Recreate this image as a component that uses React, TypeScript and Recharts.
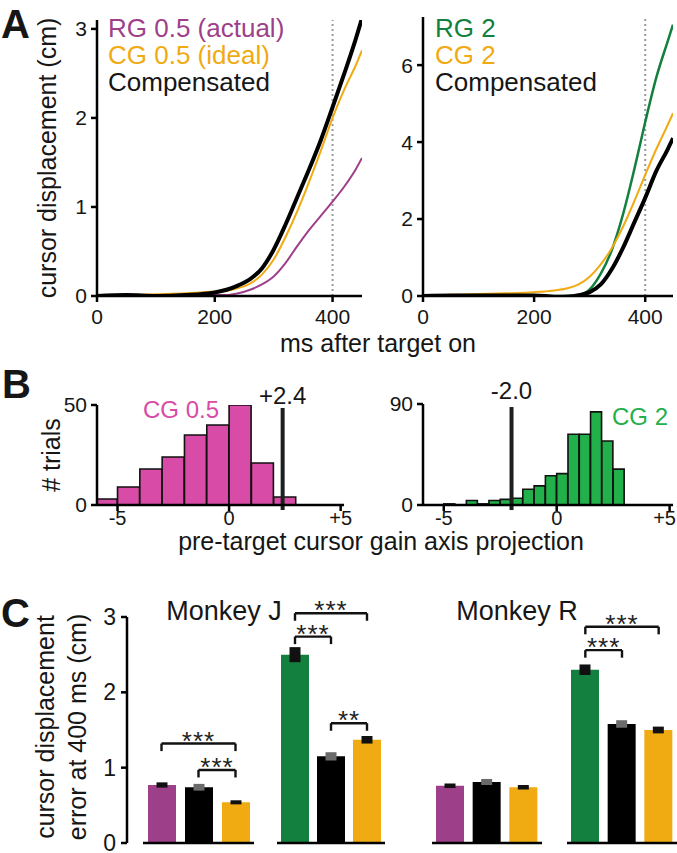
import React from "react";
import {
  LineChart,
  Line,
  BarChart,
  Bar,
  Cell,
  ErrorBar,
  XAxis,
  YAxis,
  ReferenceLine,
} from "recharts";

const FONT = '"Liberation Sans", Arial, Helvetica, sans-serif';

const PURPLE = "#9e3f8a";
const GOLD = "#f0aa12";
const GREEN = "#13803f";
const PINK = "#d84ba6";
const LIGHT_GREEN = "#22b04b";
const INK = "#161616";

// Panel A: cursor displacement (cm) vs ms after target onset
const timeMs = [0, 50, 100, 150, 200, 220, 240, 260, 280, 300, 320, 340, 360, 380, 400, 420, 440, 450];
const rg05 = [0, 0, 0, 0, 0.01, 0.01, 0.03, 0.07, 0.13, 0.22, 0.37, 0.56, 0.74, 0.9, 1.06, 1.23, 1.43, 1.55];
const cg05 = [0, 0.01, 0.02, 0.03, 0.05, 0.06, 0.09, 0.14, 0.24, 0.41, 0.66, 0.95, 1.28, 1.63, 2.0, 2.32, 2.6, 2.76];
const comp05 = [0, 0.01, 0, 0.01, 0.04, 0.07, 0.12, 0.19, 0.31, 0.52, 0.8, 1.11, 1.42, 1.75, 2.12, 2.5, 2.9, 3.12];
const rg2 = [0, 0.02, 0.02, 0.02, 0.01, 0, 0, 0, 0.02, 0.17, 0.58, 1.2, 2.12, 3.27, 4.52, 5.68, 6.6, 7.05];
const cg2 = [0, 0.03, 0.05, 0.07, 0.1, 0.12, 0.15, 0.2, 0.3, 0.5, 0.82, 1.25, 1.8, 2.45, 3.15, 3.82, 4.43, 4.75];
const comp2 = [0, 0.01, 0.01, 0.01, 0.01, 0, -0.03, -0.02, 0.02, 0.1, 0.3, 0.7, 1.25, 1.9, 2.55, 3.25, 3.8, 4.1];

// Panel B: histograms of pre-target cursor gain axis projection
const binsCG05 = [-5.5, -4.5, -3.5, -2.5, -1.5, -0.5, 0.5, 1.5, 2.5];
const trialsCG05 = [3, 9, 18, 24, 35, 40, 50, 21, 4];
const binsCG2 = [-4.75, -4.25, -3.75, -3.25, -2.75, -2.25, -1.75, -1.25, -0.75, -0.25, 0.25, 0.75, 1.25, 1.75, 2.25, 2.75];
const trialsCG2 = [1, 0, 4, 1, 4, 5, 6, 14, 17, 26, 28, 63, 63, 83, 57, 32];
const thresholdCG05 = 2.4;
const thresholdCG2 = -2.0;

// Panel C: displacement error at 400 ms (cm), mean and s.e.m.
const conditions = ["RG", "Compensated", "CG"];
const jGain05 = [0.77, 0.74, 0.54];
const jGain05Sem = [0.035, 0.045, 0.027];
const jGain2 = [2.5, 1.15, 1.37];
const jGain2Sem = [0.1, 0.055, 0.05];
const rGain05 = [0.76, 0.81, 0.74];
const rGain05Sem = [0.03, 0.04, 0.03];
const rGain2 = [2.3, 1.58, 1.5];
const rGain2Sem = [0.07, 0.05, 0.045];

type Sig = { from: string; to: string; level: number; stars: string };
const jGain05Sig: Sig[] = [
  { from: "RG", to: "CG", level: 1.32, stars: "***" },
  { from: "Compensated", to: "CG", level: 0.97, stars: "***" },
];
const jGain2Sig: Sig[] = [
  { from: "RG", to: "CG", level: 3.05, stars: "***" },
  { from: "RG", to: "Compensated", level: 2.74, stars: "***" },
  { from: "Compensated", to: "CG", level: 1.59, stars: "**" },
];
const rGain05Sig: Sig[] = [];
const rGain2Sig: Sig[] = [
  { from: "RG", to: "CG", level: 2.87, stars: "***" },
  { from: "RG", to: "Compensated", level: 2.56, stars: "***" },
];

const axisLine = { stroke: "#000", strokeWidth: 2.5 };

const signed = (v: number) => (v > 0 ? `+${v}` : `${v}`);
const fmtThreshold = (v: number) => (v > 0 ? "+" : "") + v.toFixed(1);

type SeriesDef = { key: string; color: string; width: number };

function TrajectoryChart(props: {
  rows: Record<string, number>[];
  series: SeriesDef[];
  yMax: number;
  yTicks: number[];
  left: number;
  width: number;
  yAxisWidth: number;
  marginTop: number;
  marginRight: number;
}) {
  const { rows, series, yMax, yTicks, left, width, yAxisWidth, marginTop, marginRight } = props;
  return (
    <div style={{ position: "absolute", left, top: 0 }}>
      <LineChart
        width={width}
        height={330}
        data={rows}
        margin={{ top: marginTop, right: marginRight, bottom: 0, left: 0 }}
      >
        <XAxis
          dataKey="t"
          type="number"
          domain={[0, 450]}
          ticks={[0, 200, 400]}
          interval={0}
          allowDataOverflow
          height={34}
          axisLine={axisLine}
          tickLine={axisLine}
          tickSize={6}
          tickMargin={7}
          tick={{ fill: INK, fontSize: 21 }}
        />
        <YAxis
          type="number"
          domain={[0, yMax]}
          ticks={yTicks}
          interval={0}
          allowDataOverflow
          width={yAxisWidth}
          axisLine={axisLine}
          tickLine={axisLine}
          tickSize={6}
          tickMargin={4}
          tick={{ fill: INK, fontSize: 21 }}
        />
        <ReferenceLine x={400} stroke="#9a9a9a" strokeWidth={2} strokeDasharray="2 3" />
        {series.map((s) => (
          <Line
            key={s.key}
            dataKey={s.key}
            type="monotone"
            stroke={s.color}
            strokeWidth={s.width}
            dot={false}
            isAnimationActive={false}
          />
        ))}
      </LineChart>
    </div>
  );
}

// keeps the last tick label inside the chart box
function HistTick(props: any) {
  const { x, y, payload, maxX } = props;
  const label = signed(payload.value);
  const half = label.length * 6;
  const clamp = x + half > maxX;
  return (
    <text
      x={clamp ? maxX : x}
      y={y}
      dy="0.71em"
      textAnchor={clamp ? "end" : "middle"}
      fill={INK}
      fontSize={20}
    >
      {label}
    </text>
  );
}

function HistogramChart(props: {
  bins: number[];
  counts: number[];
  color: string;
  yMax: number;
  threshold: number;
  labelOffset: number;
  left: number;
  width: number;
  yAxisWidth: number;
  marginTop: number;
  marginRight: number;
}) {
  const { bins, counts, color, yMax, threshold, labelOffset, left, width, yAxisWidth, marginTop, marginRight } = props;
  const rows = bins.map((x, i) => ({ x, n: counts[i] }));
  return (
    <div style={{ position: "absolute", left, top: 360 }}>
      <BarChart
        width={width}
        height={180}
        data={rows}
        barCategoryGap={0}
        barGap={0}
        margin={{ top: marginTop, right: marginRight, bottom: 0, left: 0 }}
      >
        <XAxis
          dataKey="x"
          type="number"
          domain={[-5.92, 5.15]}
          ticks={[-5, 0, 5]}
          interval={0}
          allowDataOverflow
          height={35}
          axisLine={axisLine}
          tickLine={axisLine}
          tickSize={6}
          tickMargin={0}
          tick={<HistTick maxX={width - 1} />}
        />
        <YAxis
          type="number"
          domain={[0, yMax]}
          ticks={[0, yMax]}
          interval={0}
          allowDataOverflow
          width={yAxisWidth}
          axisLine={axisLine}
          tickLine={axisLine}
          tickSize={6}
          tickMargin={4}
          tick={{ fill: INK, fontSize: 21 }}
        />
        <Bar dataKey="n" fill={color} stroke="#111" strokeWidth={1.6} isAnimationActive={false} />
        <ReferenceLine
          segment={[
            { x: threshold, y: yMax * 0.97 },
            { x: threshold, y: -yMax * 0.05 },
          ]}
          stroke="#1e1e1e"
          strokeWidth={4}
          ifOverflow="visible"
          label={{
            value: fmtThreshold(threshold),
            position: "top",
            offset: labelOffset,
            fill: INK,
            fontSize: 24,
          }}
        />
      </BarChart>
    </div>
  );
}

function GainGroupChart(props: {
  values: number[];
  sems: number[];
  rgColor: string;
  sig: Sig[];
  left: number;
  width: number;
}) {
  const { values, sems, rgColor, sig, left, width } = props;
  const fills: Record<string, string> = { RG: rgColor, Compensated: "#000", CG: GOLD };
  const rows = conditions.map((c, i) => ({
    cond: c,
    value: values[i],
    errDark: c === "Compensated" ? 0 : sems[i],
    errGray: c === "Compensated" ? sems[i] : 0,
  }));
  const bracket = { stroke: "#111", strokeWidth: 2.4, ifOverflow: "visible" as const };
  return (
    <div style={{ position: "absolute", left, top: 580 }}>
      <BarChart width={width} height={280} data={rows} margin={{ top: 37, right: 0, bottom: 15, left: 0 }}>
        <XAxis dataKey="cond" height={2} tick={false} tickLine={false} axisLine={axisLine} />
        <YAxis hide type="number" domain={[0, 3]} allowDataOverflow />
        <Bar dataKey="value" barSize={28} isAnimationActive={false}>
          {rows.map((r) => (
            <Cell key={r.cond} fill={fills[r.cond]} />
          ))}
          <ErrorBar dataKey="errDark" direction="y" width={0} strokeWidth={11} stroke="#111" isAnimationActive={false} />
          <ErrorBar dataKey="errGray" direction="y" width={0} strokeWidth={11} stroke="#6a6a6a" isAnimationActive={false} />
        </Bar>
        {sig.map((s, i) => (
          <ReferenceLine
            key={`h${i}`}
            {...bracket}
            segment={[
              { x: s.from, y: s.level },
              { x: s.to, y: s.level },
            ]}
            label={{ value: s.stars, position: "top", offset: -6, fill: "#222", fontSize: 26, letterSpacing: 1 }}
          />
        ))}
        {sig.map((s, i) => (
          <ReferenceLine
            key={`a${i}`}
            {...bracket}
            segment={[
              { x: s.from, y: s.level },
              { x: s.from, y: s.level - 0.1 },
            ]}
          />
        ))}
        {sig.map((s, i) => (
          <ReferenceLine
            key={`b${i}`}
            {...bracket}
            segment={[
              { x: s.to, y: s.level },
              { x: s.to, y: s.level - 0.1 },
            ]}
          />
        ))}
      </BarChart>
    </div>
  );
}

function ErrorAxisChart() {
  const rows = conditions.map((c, i) => ({ cond: c, value: jGain05[i] }));
  return (
    <div style={{ position: "absolute", left: 0, top: 580 }}>
      <BarChart width={140} height={273} data={rows} margin={{ top: 37, right: 0, bottom: 10, left: 0 }}>
        <XAxis dataKey="cond" hide />
        <YAxis
          type="number"
          domain={[0, 3]}
          ticks={[0, 1, 2, 3]}
          interval={0}
          allowDataOverflow
          width={127}
          axisLine={axisLine}
          tickLine={axisLine}
          tickSize={6}
          tickMargin={5}
          tick={{ fill: INK, fontSize: 23 }}
        />
      </BarChart>
    </div>
  );
}

type Txt = {
  s: string;
  x: number;
  y: number;
  size: number;
  fill?: string;
  anchor?: "start" | "middle" | "end";
  bold?: boolean;
  rot?: boolean;
};

const overlayText: Txt[] = [
  { s: "A", x: 1, y: 38, size: 40, bold: true },
  { s: "B", x: 2, y: 398, size: 40, bold: true },
  { s: "C", x: 1, y: 627, size: 40, bold: true },
  { s: "RG 0.5 (actual)", x: 108, y: 37, size: 26, fill: PURPLE },
  { s: "CG 0.5 (ideal)", x: 108, y: 64, size: 26, fill: GOLD },
  { s: "Compensated", x: 108, y: 91, size: 26 },
  { s: "RG 2", x: 435, y: 37, size: 26, fill: GREEN },
  { s: "CG 2", x: 435, y: 64, size: 26, fill: GOLD },
  { s: "Compensated", x: 435, y: 91, size: 26 },
  { s: "ms after target on", x: 378, y: 352, size: 25, anchor: "middle" },
  { s: "cursor displacement (cm)", x: 56, y: 158, size: 25, anchor: "middle", rot: true },
  { s: "# trials", x: 60, y: 455, size: 25, anchor: "middle", rot: true },
  { s: "CG 0.5", x: 143, y: 418, size: 24, fill: PINK },
  { s: "CG 2", x: 612, y: 425, size: 24, fill: LIGHT_GREEN },
  { s: "pre-target cursor gain axis projection", x: 381, y: 550, size: 25, anchor: "middle" },
  { s: "cursor displacement", x: 54, y: 727, size: 25, anchor: "middle", rot: true },
  { s: "error at 400 ms (cm)", x: 86, y: 727, size: 25, anchor: "middle", rot: true },
  { s: "Monkey J", x: 224, y: 620, size: 27, anchor: "middle" },
  { s: "Monkey R", x: 517, y: 620, size: 27, anchor: "middle" },
];

export default function App() {
  const rowsA05 = timeMs.map((t, i) => ({ t, rg: rg05[i], cg: cg05[i], comp: comp05[i] }));
  const rowsA2 = timeMs.map((t, i) => ({ t, rg: rg2[i], cg: cg2[i], comp: comp2[i] }));

  return (
    <div
      style={{
        position: "absolute",
        left: 0,
        top: 0,
        width: 677,
        height: 853,
        background: "#fff",
        fontFamily: FONT,
        overflow: "hidden",
      }}
    >
      <TrajectoryChart
        rows={rowsA05}
        series={[
          { key: "rg", color: PURPLE, width: 2 },
          { key: "cg", color: GOLD, width: 2 },
          { key: "comp", color: "#000", width: 4 },
        ]}
        yMax={3.1}
        yTicks={[0, 1, 2, 3]}
        left={0}
        width={370}
        yAxisWidth={97}
        marginTop={20}
        marginRight={8}
      />
      <TrajectoryChart
        rows={rowsA2}
        series={[
          { key: "rg", color: GREEN, width: 2.5 },
          { key: "cg", color: GOLD, width: 2 },
          { key: "comp", color: "#000", width: 4 },
        ]}
        yMax={7.25}
        yTicks={[0, 2, 4, 6]}
        left={380}
        width={297}
        yAxisWidth={43}
        marginTop={17}
        marginRight={4}
      />

      <HistogramChart
        bins={binsCG05}
        counts={trialsCG05}
        color={PINK}
        yMax={50}
        threshold={thresholdCG05}
        labelOffset={4}
        left={0}
        width={360}
        yAxisWidth={97}
        marginTop={45}
        marginRight={16}
      />
      <HistogramChart
        bins={binsCG2}
        counts={trialsCG2}
        color={LIGHT_GREEN}
        yMax={90}
        threshold={thresholdCG2}
        labelOffset={8}
        left={380}
        width={297}
        yAxisWidth={43}
        marginTop={44}
        marginRight={4}
      />

      <ErrorAxisChart />
      <GainGroupChart values={jGain05} sems={jGain05Sem} rgColor={PURPLE} sig={jGain05Sig} left={143} width={111} />
      <GainGroupChart values={jGain2} sems={jGain2Sem} rgColor={GREEN} sig={jGain2Sig} left={277} width={108} />
      <GainGroupChart values={rGain05} sems={rGain05Sem} rgColor={PURPLE} sig={rGain05Sig} left={432} width={110} />
      <GainGroupChart values={rGain2} sems={rGain2Sem} rgColor={GREEN} sig={rGain2Sig} left={567} width={110} />

      <svg
        width={677}
        height={853}
        style={{ position: "absolute", left: 0, top: 0, pointerEvents: "none" }}
      >
        {overlayText.map((t, i) => (
          <text
            key={i}
            x={t.x}
            y={t.y}
            fontSize={t.size}
            fontWeight={t.bold ? 700 : 400}
            fill={t.fill ?? INK}
            textAnchor={t.anchor ?? "start"}
            transform={t.rot ? `rotate(-90 ${t.x} ${t.y})` : undefined}
            fontFamily={FONT}
          >
            {t.s}
          </text>
        ))}
      </svg>
    </div>
  );
}
